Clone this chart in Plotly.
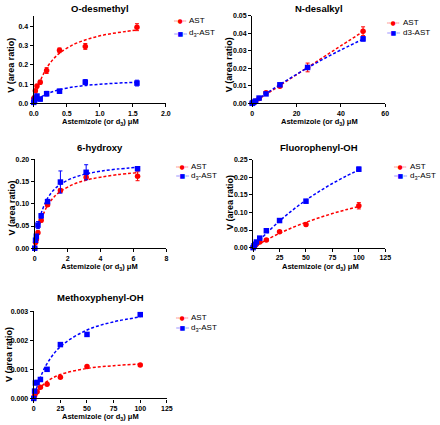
import plotly.graph_objects as go

W, H = 440, 425
RED = "#ff0000"
BLUE = "#0000ff"
FONT = "Liberation Sans, Arial, sans-serif"

# ---------------- data ----------------
titles = ["O-desmethyl", "N-desalkyl", "6-hydroxy", "Fluorophenyl-OH", "Methoxyphenyl-OH"]

# O-desmethyl
od_conc = [0, 0.0122, 0.0244, 0.0488, 0.0977, 0.195, 0.39, 0.78, 1.5625]
od_ast = [0.025, 0.03, 0.065, 0.09, 0.11, 0.17, 0.275, 0.295, 0.395]
od_ast_err = [0.003, 0.005, 0.005, 0.006, 0.01, 0.015, 0.012, 0.015, 0.018]
od_d3 = [0.005, 0.015, 0.025, 0.038, 0.022, 0.05, 0.063, 0.11, 0.105]
od_d3_err = [0.003, 0.005, 0.005, 0.008, 0.01, 0.012, 0.01, 0.013, 0.015]
od_fit_x = [0, 0.025, 0.05, 0.1, 0.2, 0.3, 0.4, 0.6, 0.8, 1.0, 1.2, 1.4, 1.5625]
od_fit_ast = [0, 0.036, 0.067, 0.117, 0.186, 0.231, 0.263, 0.305, 0.331, 0.350, 0.363, 0.373, 0.380]
od_fit_d3 = [0, 0.009, 0.017, 0.030, 0.049, 0.062, 0.072, 0.085, 0.093, 0.099, 0.1035, 0.107, 0.109]

# N-desalkyl
nd_conc = [0, 0.39, 0.78, 1.56, 3.125, 6.25, 12.5, 25, 50]
nd_ast = [0, 0.0003, 0.0006, 0.0012, 0.0028, 0.006, 0.0098, 0.0205, 0.0412]
nd_ast_err = [0, 0, 0, 0.0001, 0.0003, 0.0007, 0.0005, 0.0025, 0.0025]
nd_d3 = [0, 0.0004, 0.0007, 0.0013, 0.003, 0.0054, 0.0106, 0.0205, 0.0368]
nd_d3_err = [0, 0, 0, 0.0001, 0.0003, 0.0005, 0.0006, 0.001, 0.0012]
nd_fit_x = [0, 6.25, 12.5, 25, 37.5, 50]
nd_fit_ast = [0, 0.0051, 0.0102, 0.0205, 0.0308, 0.0410]
nd_fit_d3 = [0, 0.0055, 0.0107, 0.0203, 0.0289, 0.0367]

# 6-hydroxy
hy_conc = [0, 0.049, 0.098, 0.195, 0.39, 0.78, 1.56, 3.125, 6.25]
hy_ast = [0, 0.013, 0.02, 0.035, 0.063, 0.098, 0.13, 0.16, 0.162]
hy_ast_err = [0, 0.002, 0.002, 0.004, 0.004, 0.004, 0.004, 0.005, 0.01]
hy_d3 = [0, 0.018, 0.027, 0.052, 0.073, 0.105, 0.149, 0.171, 0.179]
hy_d3_err = [0, 0.003, 0.003, 0.008, 0.005, 0.004, 0.025, 0.017, 0.003]
hy_fit_x = [0, 0.1, 0.2, 0.4, 0.8, 1.2, 1.6, 2.4, 3.2, 4.0, 5.0, 6.25]
hy_fit_ast = [0, 0.022, 0.0395, 0.0655, 0.0975, 0.1165, 0.129, 0.1446, 0.154, 0.160, 0.1655, 0.170]
hy_fit_d3 = [0, 0.0284, 0.0498, 0.0796, 0.1138, 0.1329, 0.145, 0.1595, 0.1679, 0.1734, 0.1781, 0.182]

# Fluorophenyl-OH
fl_conc = [0, 0.78, 1.56, 3.125, 6.25, 12.5, 25, 50, 100]
fl_ast = [0, 0.003, 0.005, 0.010, 0.016, 0.0215, 0.045, 0.0655, 0.119]
fl_ast_err = [0, 0.001, 0.001, 0.002, 0.002, 0.002, 0.002, 0.004, 0.009]
fl_d3 = [0, 0.005, 0.0095, 0.016, 0.027, 0.048, 0.077, 0.132, 0.223]
fl_d3_err = [0, 0.001, 0.002, 0.002, 0.003, 0.003, 0.003, 0.005, 0.006]
fl_fit_x = [0, 6.25, 12.5, 25, 37.5, 50, 62.5, 75, 87.5, 100]
fl_fit_ast = [0, 0.0113, 0.0218, 0.0407, 0.0573, 0.072, 0.085, 0.0968, 0.1075, 0.117]
fl_fit_d3 = [0, 0.0209, 0.0405, 0.0759, 0.1070, 0.135, 0.1597, 0.1823, 0.2025, 0.2211]

# Methoxyphenyl-OH
me_conc = [0, 0.78, 1.56, 3.125, 6.25, 12.5, 25, 50, 100]
me_ast = [0, 0.0001, 0.00018, 0.00023, 0.00038, 0.00049, 0.00073, 0.0011, 0.00115]
me_ast_err = [0, 0, 0, 0, 0.00001, 0.00002, 0.00003, 0.00003, 0.00003]
me_d3 = [0, 0.00025, 0.00053, 0.00055, 0.00065, 0.001, 0.00185, 0.0022, 0.00288]
me_d3_err = [0, 0, 0.00002, 0.00002, 0.00003, 0.00003, 0.00004, 0.00004, 0.00005]
me_fit_x = [0, 1.56, 3.125, 6.25, 12.5, 25, 50, 75, 100]
me_fit_ast = [0, 0.000116, 0.000214, 0.00037, 0.000584, 0.000821, 0.00103, 0.001125, 0.00118]
me_fit_d3 = [0, 0.000215, 0.000405, 0.000724, 0.001198, 0.00178, 0.002351, 0.002632, 0.0028]

panels = [
    (od_conc, od_ast, od_ast_err, od_d3, od_d3_err, od_fit_x, od_fit_ast, od_fit_d3),
    (nd_conc, nd_ast, nd_ast_err, nd_d3, nd_d3_err, nd_fit_x, nd_fit_ast, nd_fit_d3),
    (hy_conc, hy_ast, hy_ast_err, hy_d3, hy_d3_err, hy_fit_x, hy_fit_ast, hy_fit_d3),
    (fl_conc, fl_ast, fl_ast_err, fl_d3, fl_d3_err, fl_fit_x, fl_fit_ast, fl_fit_d3),
    (me_conc, me_ast, me_ast_err, me_d3, me_d3_err, me_fit_x, me_fit_ast, me_fit_d3),
]
legend_d3 = ["d<sub>3</sub>-AST", "d3-AST", "d<sub>3</sub>-AST", "d<sub>3</sub>-AST", "d<sub>3</sub>-AST"]

# ---------------- layout geometry (pixels) ----------------
# (left, right, top, bottom)
boxes = [
    (29.5, 165, 12, 101),
    (253.5, 390, 12, 101),
    (30.5, 165.5, 158, 248.3),
    (254.5, 390, 158.3, 247.7),
    (29.5, 166, 312.3, 401),
]
xranges = [[0, 2], [0, 60], [0, 8], [0, 125], [0, 125]]
yranges = [[0, 0.454], [0, 0.05], [0, 0.2], [0, 0.25], [0, 0.003]]
xdt = [0.5, 20, 2, 25, 25]
ydt = [0.1, 0.01, 0.05, 0.05, 0.001]
xfmt = [".1f", "d", "d", "d", "d"]
yfmt = [".1f", ".2f", ".2f", ".2f", ".3f"]
title_pos = [(97, 5), (322, 5), (97, 146), (322, 146), (98, 298)]
xtitle_pos = [(98, 120), (323, 120), (97, 267.5), (324, 267.5), (98, 419.5)]
ytitle_pos = [(6, 62), (230, 62), (7, 207), (230, 202), (4, 356)]
leg_pos = [(172, 16.5, 29.5), (391, 18.5, 28.5), (174, 165, 174.5), (398, 165, 174.5), (174, 318.5, 329)]


def px(x):
    return x / W


def py(y):
    return 1 - y / H


fig = go.Figure()
annotations = []

for i, (conc, ast, ast_e, d3, d3_e, fx, fa, fd) in enumerate(panels):
    n = "" if i == 0 else str(i + 1)
    xa, ya = "x" + n, "y" + n
    # fitted curves
    fig.add_trace(go.Scatter(x=fx, y=fa, mode="lines", line=dict(color=RED, width=1.5, dash="3px,2px", shape="spline"),
                             xaxis=xa, yaxis=ya, showlegend=False, hoverinfo="skip", cliponaxis=False))
    fig.add_trace(go.Scatter(x=fx, y=fd, mode="lines", line=dict(color=BLUE, width=1.5, dash="3px,2px", shape="spline"),
                             xaxis=xa, yaxis=ya, showlegend=False, hoverinfo="skip", cliponaxis=False))
    # data points
    fig.add_trace(go.Scatter(x=conc, y=ast, mode="markers",
                             marker=dict(color=RED, size=5.5, symbol="circle"),
                             error_y=dict(type="data", array=ast_e, color=RED, thickness=1, width=2),
                             xaxis=xa, yaxis=ya, showlegend=False, cliponaxis=False))
    fig.add_trace(go.Scatter(x=conc, y=d3, mode="markers",
                             marker=dict(color=BLUE, size=5.5, symbol="square"),
                             error_y=dict(type="data", array=d3_e, color=BLUE, thickness=1, width=2),
                             xaxis=xa, yaxis=ya, showlegend=False, cliponaxis=False))

    l, r, t, b = boxes[i]
    axis_common = dict(showline=True, linecolor="black", linewidth=1.3, ticks="outside", ticklen=3,
                       tickwidth=1, tickcolor="black", showgrid=False, zeroline=False,
                       tickfont=dict(family=FONT, size=7, color="black", weight="bold"))
    fig.layout["xaxis" + n] = dict(domain=[px(l), px(r)], anchor=ya, range=xranges[i], dtick=xdt[i],
                                   tick0=0, tickformat=xfmt[i], **axis_common)
    fig.layout["yaxis" + n] = dict(domain=[py(b), py(t)], anchor=xa, range=yranges[i], dtick=ydt[i],
                                   tick0=0, tickformat=yfmt[i], **axis_common)

    tx, ty = title_pos[i]
    annotations.append(dict(text=titles[i], x=px(tx), y=py(ty), xref="paper", yref="paper", showarrow=False,
                            xanchor="center", yanchor="middle",
                            font=dict(family=FONT, size=9.5, color="black", weight="bold")))
    tx, ty = xtitle_pos[i]
    annotations.append(dict(text="Astemizole (or d<sub>3</sub>) μM", x=px(tx), y=py(ty), xref="paper", yref="paper",
                            showarrow=False, xanchor="center", yanchor="middle", borderpad=0,
                            font=dict(family=FONT, size=7.5, color="black", weight="bold")))
    tx, ty = ytitle_pos[i]
    annotations.append(dict(text="V (area ratio)", x=px(tx), y=py(ty), xref="paper", yref="paper", textangle=-90,
                            showarrow=False, xanchor="center", yanchor="middle",
                            font=dict(family=FONT, size=9, color="black", weight="bold")))
    # legend entries
    lx, ly1, ly2 = leg_pos[i]
    for sym, col, lab, ly in (("╌●╌", RED, "AST", ly1), ("╌■╌", BLUE, legend_d3[i], ly2)):
        annotations.append(dict(text=sym, x=px(lx), y=py(ly), xref="paper", yref="paper", showarrow=False,
                                xanchor="left", yanchor="middle", borderpad=0,
                                font=dict(family="DejaVu Sans, sans-serif", size=6, color=col)))
        annotations.append(dict(text=lab, x=px(lx + 16), y=py(ly), xref="paper", yref="paper", showarrow=False,
                                xanchor="left", yanchor="middle", borderpad=0,
                                font=dict(family=FONT, size=8, color="black")))

fig.update_layout(width=W, height=H, margin=dict(l=0, r=0, t=0, b=0), paper_bgcolor="white",
                  plot_bgcolor="white", showlegend=False, annotations=annotations)

fig.write_html("out.html", config={"displayModeBar": False},
               post_script="document.body.style.margin='0';document.body.style.overflow='hidden';")
